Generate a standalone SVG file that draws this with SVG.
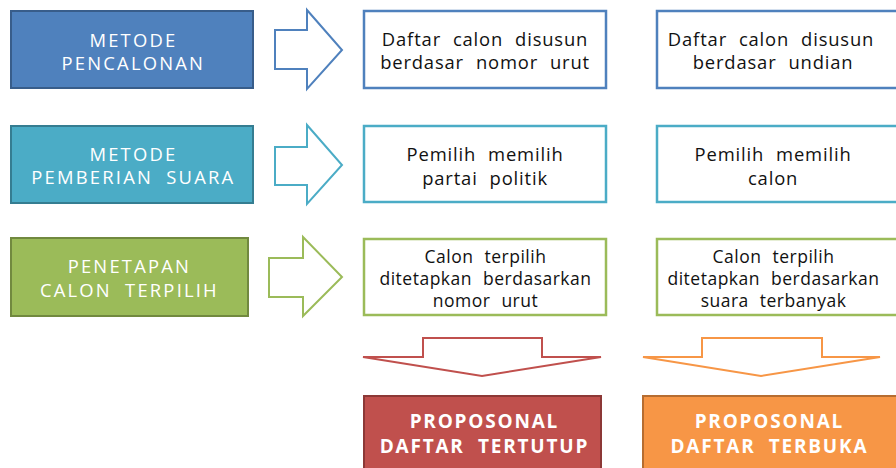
<svg xmlns="http://www.w3.org/2000/svg" width="896" height="468" viewBox="0 0 896 468">
<style>
.lt{font-family:"Open Sans","Noto Sans",sans-serif;font-size:18.4px;letter-spacing:2.2px;fill:#fff;text-anchor:middle}
.rt{font-family:"Open Sans","Noto Sans",sans-serif;font-size:18.4px;letter-spacing:0.85px;fill:#111;text-anchor:middle}
.rs{font-family:"Open Sans","Noto Sans",sans-serif;font-size:17.5px;letter-spacing:0.5px;fill:#111;text-anchor:middle}
.bt{font-family:"Open Sans","Noto Sans",sans-serif;font-size:19px;font-weight:bold;letter-spacing:1.8px;fill:#fff;text-anchor:middle}
.arr{fill:#fff;stroke-width:2;stroke-linejoin:miter}
.rb{fill:#fff;stroke-width:2.5}
</style>
<rect width="896" height="468" fill="#fff"/>
<g id="connectors">
<polygon class="arr" stroke="#4F81BD" points="275,30 307,30 307,10 342,50 307,89 307,69 275,69"/>
<polygon class="arr" stroke="#4BACC6" points="275,147 307,147 307,125 342,165 307,204 307,185 275,185"/>
<polygon class="arr" stroke="#9BBB59" points="269,258 303,258 303,237 342,277 303,316 303,297 269,297"/>
<polygon class="arr" stroke="#C0504D" points="423,338 542,338 542,357 601,357 482,376 363,357 423,357"/>
<polygon class="arr" stroke="#F79646" points="702,338 822,338 822,357 880,357 761,376 643,357 702,357"/>
</g>
<g id="metode-pencalonan">
<rect x="11" y="11" width="242" height="77" fill="#4F81BD" stroke="#385D8A" stroke-width="2"/>
<text class="lt" x="140" y="47">METODE&#xF020;</text>
<text class="lt" x="140" y="70">PENCALONAN&#xF020;</text>
</g>
<g id="metode-pemberian-suara">
<rect x="11" y="126" width="242" height="77" fill="#4BACC6" stroke="#357D91" stroke-width="2"/>
<text class="lt" x="140" y="161">METODE&#xF020;</text>
<text class="lt" x="140" y="184">PEMBERIAN&#xF020;SUARA&#xF020;</text>
</g>
<g id="penetapan-calon">
<rect x="11" y="238" width="237" height="78" fill="#9BBB59" stroke="#71893F" stroke-width="2"/>
<text class="lt" x="136" y="273">PENETAPAN&#xF020;</text>
<text class="lt" x="136" y="297">CALON&#xF020;TERPILIH&#xF020;</text>
</g>
<g id="tertutup-pencalonan">
<rect class="rb" x="364" y="11" width="242" height="77" stroke="#4F81BD"/>
<text class="rt" x="491" y="46">Daftar&#xF020;calon&#xF020;disusun&#xF020;</text>
<text class="rt" x="491" y="69">berdasar&#xF020;nomor&#xF020;urut&#xF020;</text>
</g>
<g id="terbuka-pencalonan">
<rect class="rb" x="657" y="11" width="260" height="77" stroke="#4F81BD"/>
<text class="rt" x="777" y="46">Daftar&#xF020;calon&#xF020;disusun&#xF020;</text>
<text class="rt" x="779" y="69">berdasar&#xF020;undian&#xF020;</text>
</g>
<g id="tertutup-suara">
<rect class="rb" x="364" y="126" width="242" height="76" stroke="#4BACC6"/>
<text class="rt" x="491" y="161">Pemilih&#xF020;memilih&#xF020;</text>
<text class="rt" x="491" y="185">partai&#xF020;politik&#xF020;</text>
</g>
<g id="terbuka-suara">
<rect class="rb" x="657" y="126" width="260" height="76" stroke="#4BACC6"/>
<text class="rt" x="779" y="161">Pemilih&#xF020;memilih&#xF020;</text>
<text class="rt" x="779" y="185">calon&#xF020;</text>
</g>
<g id="tertutup-penetapan">
<rect class="rb" x="364" y="239" width="242" height="76" stroke="#9BBB59"/>
<text class="rs" x="491" y="263">Calon&#xF020;terpilih&#xF020;</text>
<text class="rs" x="491" y="285">ditetapkan&#xF020;berdasarkan&#xF020;</text>
<text class="rs" x="491" y="307">nomor&#xF020;urut&#xF020;</text>
</g>
<g id="terbuka-penetapan">
<rect class="rb" x="657" y="239" width="260" height="76" stroke="#9BBB59"/>
<text class="rs" x="779" y="263">Calon&#xF020;terpilih&#xF020;</text>
<text class="rs" x="779" y="285">ditetapkan&#xF020;berdasarkan&#xF020;</text>
<text class="rs" x="779" y="307">suara&#xF020;terbanyak&#xF020;</text>
</g>
<g id="daftar-tertutup">
<rect x="364" y="396" width="237" height="80" fill="#C0504D" stroke="#8C3836" stroke-width="2"/>
<text class="bt" x="491" y="428">PROPOSONAL&#xF020;</text>
<text class="bt" x="491" y="453">DAFTAR&#xF020;TERTUTUP&#xF020;</text>
</g>
<g id="daftar-terbuka">
<rect x="643" y="396" width="270" height="80" fill="#F79646" stroke="#B66D31" stroke-width="2"/>
<text class="bt" x="776" y="428">PROPOSONAL&#xF020;</text>
<text class="bt" x="776" y="453">DAFTAR&#xF020;TERBUKA&#xF020;</text>
</g>
</svg>
